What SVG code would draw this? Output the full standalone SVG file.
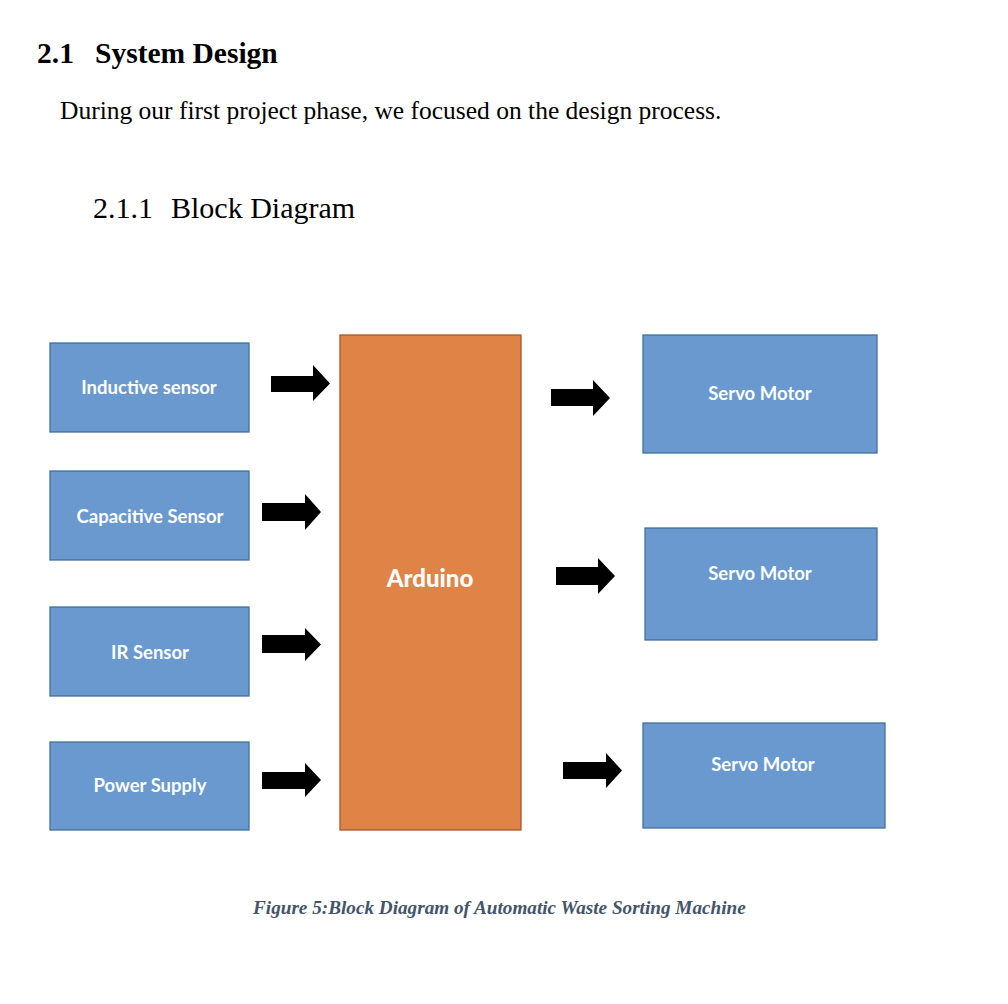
<svg xmlns="http://www.w3.org/2000/svg" width="1008" height="1004" viewBox="0 0 1008 1004">
<style>
.h1{font-family:"Liberation Serif",serif;font-weight:bold;font-size:29.5px;fill:#000}
.body{font-family:"Liberation Serif",serif;font-size:25.5px;fill:#000}
.h3{font-family:"Liberation Serif",serif;font-size:30px;fill:#000}
.cap{font-family:"Liberation Serif",serif;font-weight:bold;font-style:italic;font-size:19.2px;fill:#44546A}
.box{fill:#6999CF;stroke:#41719C;stroke-width:1.3}
.ard{fill:#E08347;stroke:#A9572A;stroke-width:1.3}
.lbl{font-family:Lato,"Open Sans",sans-serif;font-weight:bold;font-size:18.5px;fill:#fff;text-anchor:middle}
.albl{font-family:Lato,"Open Sans",sans-serif;font-weight:900;font-size:24px;fill:#fff;text-anchor:middle}
.arr{fill:#000}
</style>
<rect width="1008" height="1004" fill="#fff"/>
<text class="h1" x="37" y="63">2.1</text>
<text class="h1" x="95" y="63">System Design</text>
<text class="body" x="60" y="119">During our first project phase, we focused on the design process.</text>
<text class="h3" x="93" y="218">2.1.1</text>
<text class="h3" x="171" y="218">Block Diagram</text>

<g id="inductive"><rect class="box" x="50" y="343" width="199" height="89"/><text class="lbl" x="149" y="394">Inductive sensor</text></g>
<g id="capacitive"><rect class="box" x="50" y="471" width="199" height="89"/><text class="lbl" x="150" y="523">Capacitive Sensor</text></g>
<g id="ir"><rect class="box" x="50" y="607" width="199" height="89"/><text class="lbl" x="150" y="659">IR Sensor</text></g>
<g id="power"><rect class="box" x="50" y="742" width="199" height="88"/><text class="lbl" x="150" y="792">Power Supply</text></g>
<g id="arduino"><rect class="ard" x="340" y="335" width="181" height="495"/><text class="albl" x="430" y="587">Arduino</text></g>
<g id="servo1"><rect class="box" x="643" y="335" width="234" height="118"/><text class="lbl" x="760" y="400">Servo Motor</text></g>
<g id="servo2"><rect class="box" x="645" y="528" width="232" height="112"/><text class="lbl" x="760" y="580">Servo Motor</text></g>
<g id="servo3"><rect class="box" x="643" y="723" width="242" height="105"/><text class="lbl" x="763" y="771">Servo Motor</text></g>

<g id="connectors">
<polygon class="arr" points="271,376 313,376 313,365 330,383.5 313,401 313,392 271,392"/>
<polygon class="arr" points="262,503 305,503 305,494 321,512 305,530 305,521 262,521"/>
<polygon class="arr" points="262,635 305,635 305,628 321,644.5 305,661 305,653 262,653"/>
<polygon class="arr" points="262,772 305,772 305,763 321,780 305,797 305,789 262,789"/>
<polygon class="arr" points="551,389 593,389 593,380 610,398 593,416 593,406 551,406"/>
<polygon class="arr" points="556,567 598,567 598,558 615,576 598,594 598,585 556,585"/>
<polygon class="arr" points="563,762 606,762 606,753 622,770.5 606,788 606,779 563,779"/>
</g>

<text class="cap" x="253" y="914">Figure 5:Block Diagram of Automatic Waste Sorting Machine</text>
</svg>
